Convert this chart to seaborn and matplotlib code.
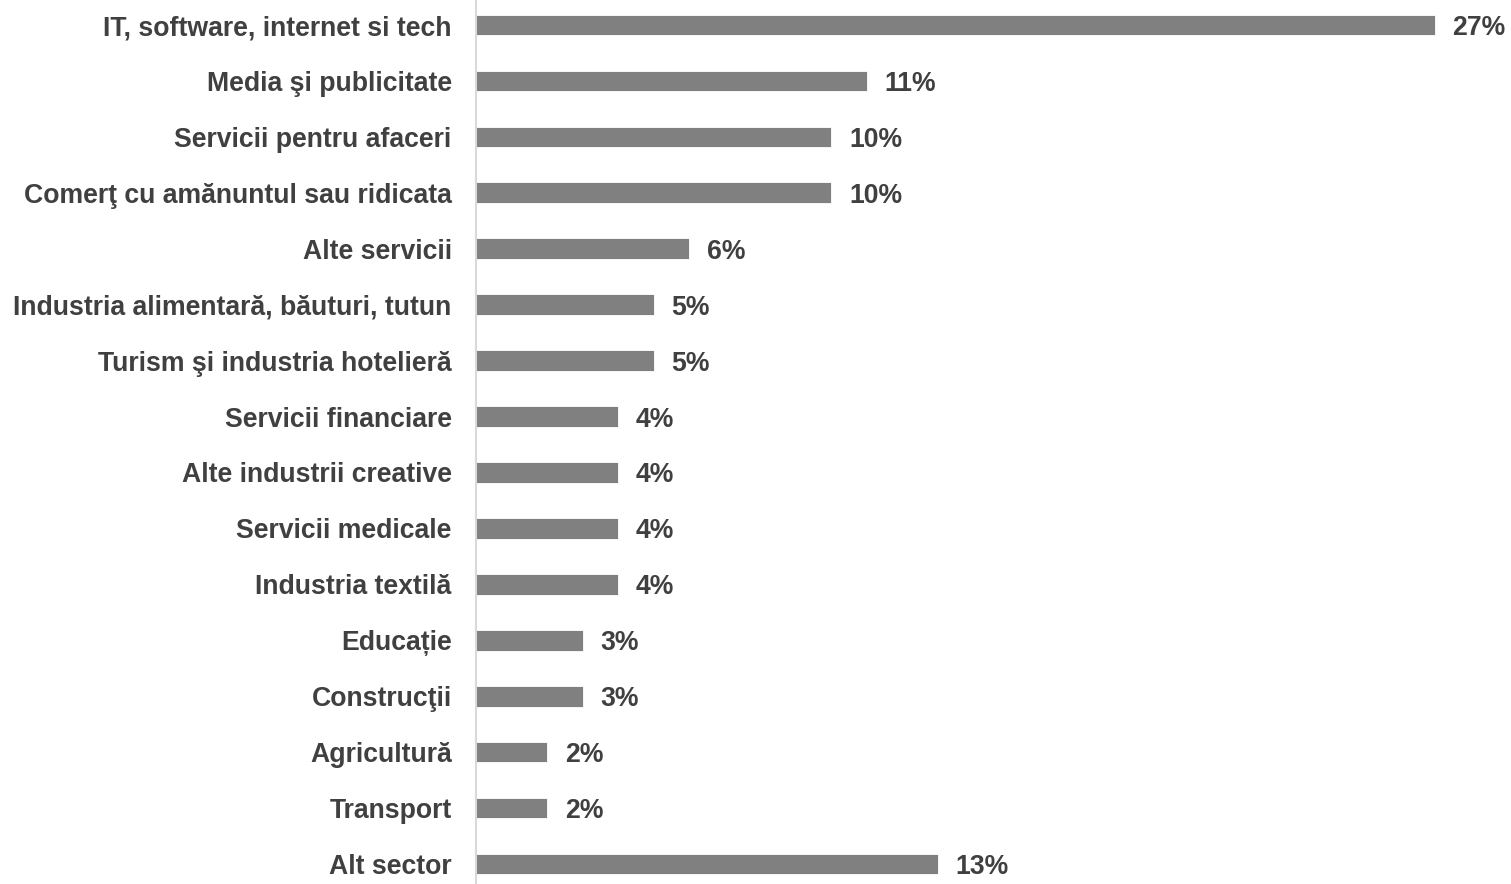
import matplotlib
matplotlib.use("Agg")
import matplotlib.pyplot as plt
import seaborn as sns
import pandas as pd

categories = [
    "IT, software, internet si tech",
    "Media şi publicitate",
    "Servicii pentru afaceri",
    "Comerţ cu amănuntul sau ridicata",
    "Alte servicii",
    "Industria alimentară, băuturi, tutun",
    "Turism şi industria hotelieră",
    "Servicii financiare",
    "Alte industrii creative",
    "Servicii medicale",
    "Industria textilă",
    "Educație",
    "Construcţii",
    "Agricultură",
    "Transport",
    "Alt sector",
]
values = [27, 11, 10, 10, 6, 5, 5, 4, 4, 4, 4, 3, 3, 2, 2, 13]

sns.set_theme(style="white")
plt.rcParams["font.family"] = ["Liberation Sans", "DejaVu Sans"]

df = pd.DataFrame({"cat": categories, "val": values})

fig = plt.figure(figsize=(15.11, 8.84), dpi=100)
ax = fig.add_axes([476 / 1511, 0.0, 1 - 476 / 1511, 1.0])

sns.barplot(data=df, y="cat", x="val", orient="h", color="#808080",
            saturation=1, width=0.37, edgecolor="white", linewidth=0.6, ax=ax)

ax.set_xlim(0, (1511 - 476) / 35.5)
ax.set_ylim(15.358, -0.447)
ax.set_xlabel("")
ax.set_ylabel("")
ax.set_xticks([])
for s in ["top", "right", "bottom"]:
    ax.spines[s].set_visible(False)
ax.spines["left"].set_color("#d9d9d9")
ax.spines["left"].set_linewidth(1.5)
ax.tick_params(axis="y", length=0, pad=17.5)
for lbl in ax.get_yticklabels():
    lbl.set_fontsize(19.2)
    lbl.set_fontweight("bold")
    lbl.set_color("#404040")

for i, v in enumerate(values):
    ax.annotate(f"{v}%", xy=(v, i), xytext=(13, 0), textcoords="offset points",
                va="center_baseline", ha="left", fontsize=19.2, fontweight="bold",
                color="#404040", annotation_clip=False)

fig.savefig("out.png", dpi=100)
